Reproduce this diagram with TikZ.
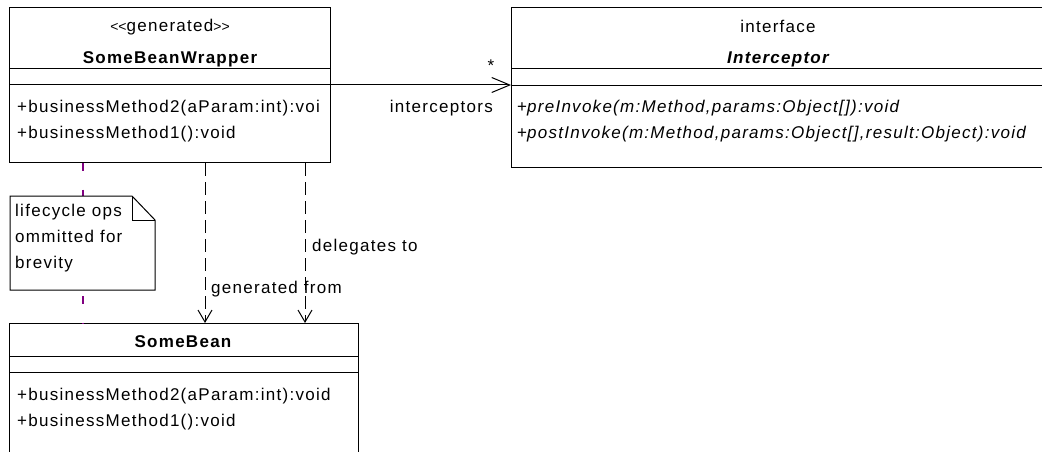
\documentclass[tikz,border=0pt]{standalone}
\usepackage{fontspec}
\setmainfont{Liberation Sans}[LetterSpace=7.5, Ligatures=TeXOff]
\usetikzlibrary{arrows.meta}
\definecolor{notepurple}{RGB}{128,0,128}
\begin{document}
\fontsize{17}{26}\selectfont
\begin{tikzpicture}[x=1pt,y=-1pt,
  every node/.style={inner sep=0pt},
  umlbox/.style={draw, line width=1pt, anchor=north west, fill=white},
  sepline/.style={line width=1pt},
  dep/.style={line width=1pt, dash pattern=on 13pt off 6pt, -{Straight Barb[length=12pt,width=14pt,line width=1pt]}},
  assoc/.style={line width=1pt, -{Straight Barb[length=18pt,width=15pt,line width=1pt]}},
  notelink/.style={line width=1.2pt, color=notepurple, dash pattern=on 8pt off 18.6pt},
  lbl/.style={anchor=base west},
]
\useasboundingbox (0,0) rectangle (1042,452);
\clip (0,0) rectangle (1042,452);

% class boxes
\node[umlbox, minimum width=321pt, minimum height=155pt] (wrap) at (9,7) {};
\node[umlbox, minimum width=534pt, minimum height=160pt] (icpt) at (511,7) {};
\node[umlbox, minimum width=349pt, minimum height=145pt] (bean) at (9,323) {};

% compartments
\draw[sepline] ([yshift=-62pt]wrap.north west) -- ([yshift=-62pt]wrap.north east);
\draw[sepline] ([yshift=-78pt]wrap.north west) -- ([yshift=-78pt]wrap.north east);
\draw[sepline] ([yshift=-62pt]icpt.north west) -- ([yshift=-62pt]icpt.north east);
\draw[sepline] ([yshift=-79pt]icpt.north west) -- ([yshift=-79pt]icpt.north east);
\draw[sepline] ([yshift=-33pt]bean.north west) -- ([yshift=-33pt]bean.north east);
\draw[sepline] ([yshift=-49pt]bean.north west) -- ([yshift=-49pt]bean.north east);

% texts of SomeBeanWrapper
\node[anchor=base] (wrapst) at (170,32) {{\fontsize{14}{26}\selectfont <\kern0pt<}generated{\fontsize{14}{26}\selectfont >\kern0pt>}};
\node[anchor=base, font=\bfseries] (wrapname) at (170,64) {SomeBeanWrapper};
\node[lbl] (wm2) at (17,113) {+businessMethod2(aParam:int):voi};
\node[lbl] (wm1) at (17,139) {+businessMethod1():void};

% texts of Interceptor
\node[anchor=base] (icst) at (778,33) {interface};
\node[anchor=base, font=\bfseries\itshape] (icname) at (778,64) {Interceptor};
\node[lbl] (im1) at (517,113) {+\textit{preInvoke(m:Method,params:Object[]):void}};
\node[lbl] (im2) at (517,139) {+\textit{postInvoke(m:Method,params:Object[],result:Object):void}};

% texts of SomeBean
\node[anchor=base, font=\bfseries] (beanname) at (183,347) {SomeBean};
\node[lbl] (bm2) at (17,400) {+businessMethod2(aParam:int):void};
\node[lbl] (bm1) at (17,426) {+businessMethod1():void};

% connectors
\coordinate (xa) at (205,0);
\coordinate (xb) at (305,0);
\coordinate (xp) at (83,0);
\coordinate (yh) at (0,85);
\draw[notelink] (xp |- wrap.south) -- (xp |- bean.north);
\draw[dep] (xa |- wrap.south) -- (xa |- bean.north);
\draw[dep] (xb |- wrap.south) -- (xb |- bean.north);
\draw[assoc] (wrap.east |- yh) -- (icpt.west |- yh);

% connector labels
\node[anchor=base] (mult) at (491,72) {*};
\node[anchor=base east] (role) at (493,113) {interceptors};
\node[lbl] (genfrom) at (211,293) {generated from};
\node[lbl] (deleg) at (312,251) {delegates to};

% note
\draw[line width=1pt, fill=white] (10,196) -- (132,196) -- (155,220) -- (155,290) -- (10,290) -- cycle;
\draw[line width=1pt] (132,196) -- (132,220) -- (155,220);
\node[anchor=north west, align=left] (note) at (15,204) {lifecycle ops\\ommitted for\\brevity};
\end{tikzpicture}
\end{document}
